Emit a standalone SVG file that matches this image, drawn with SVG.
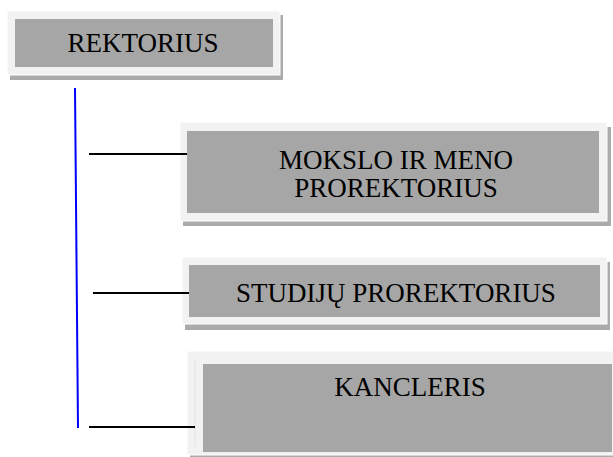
<svg xmlns="http://www.w3.org/2000/svg" width="613" height="457" viewBox="0 0 613 457">
<style>
.sh{fill:#ababab}
.outer{fill:#f2f2f2;stroke:#ffffff;stroke-width:1}
.inner{fill:#a6a6a6}
.t{font-family:"Liberation Serif","Times New Roman",serif;font-size:27px;fill:#000;text-anchor:middle}
.c{stroke:#000;stroke-width:2;fill:none}
.v{stroke:#0000ff;stroke-width:2;fill:none}
</style>
<rect width="613" height="457" fill="#fff"/>
<g id="rektorius">
<rect class="sh" x="10" y="15" width="273" height="65"/>
<rect class="outer" x="7" y="11" width="273" height="64"/>
<rect class="inner" x="15" y="19" width="258" height="48"/>
<text class="t" x="143" y="52">REKTORIUS</text>
</g>
<g id="mokslo">
<rect class="sh" x="183" y="127" width="428" height="99"/>
<rect class="outer" x="180" y="122" width="427" height="99"/>
<rect class="inner" x="187" y="131" width="412" height="82"/>
<text class="t" x="396" y="169">MOKSLO IR MENO</text>
<text class="t" x="396" y="197">PROREKTORIUS</text>
</g>
<g id="studiju">
<rect class="sh" x="185" y="262" width="425" height="68"/>
<rect class="outer" x="182" y="257" width="425" height="67"/>
<rect class="inner" x="189" y="265" width="411" height="52"/>
<text class="t" x="396" y="302">STUDIJŲ PROREKTORIUS</text>
</g>
<g id="kancleris">
<rect class="sh" x="190" y="356" width="430" height="110"/>
<rect class="outer" x="187" y="351" width="430" height="104"/>
<line x1="195" y1="359" x2="195" y2="447" stroke="#e2e2e2" stroke-width="1"/>
<rect class="inner" x="203" y="364" width="409" height="88"/>
<text class="t" x="410" y="396">KANCLERIS</text>
</g>
<g id="connectors">
<line class="v" x1="75" y1="88" x2="78" y2="428"/>
<line class="c" x1="89" y1="154" x2="187" y2="154"/>
<line class="c" x1="93" y1="293" x2="189" y2="293"/>
<line class="c" x1="89" y1="427" x2="195" y2="427"/>
</g>
</svg>
